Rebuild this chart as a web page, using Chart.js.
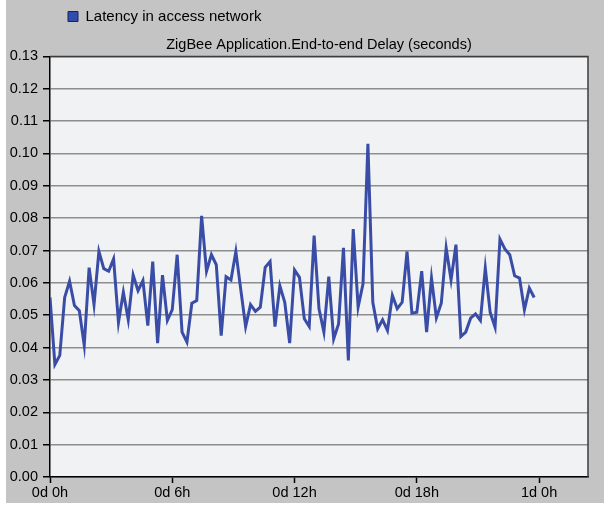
<!DOCTYPE html>
<html>
<head>
<meta charset="utf-8">
<title>ZigBee End-to-end Delay</title>
<script src="https://cdn.jsdelivr.net/npm/chart.js@4.4.1/dist/chart.umd.min.js"></script>
<style>
  html, body { margin: 0; padding: 0; background: #ffffff; }
  #wrap { width: 604px; height: 506px; }
</style>
</head>
<body>
<div id="wrap"><canvas id="delayChart" width="604" height="506"></canvas></div>
<script>
// ===== DATA =====
const seriesName = 'Latency in access network';
const chartTitle = 'ZigBee Application.End-to-end Delay (seconds)';

// one bucket every 0.24 h (100 buckets per simulated day)
const bucketHours = 0.24;
const delays = [
  0.0555, 0.0348, 0.0376, 0.0555, 0.0605, 0.0530, 0.0514, 0.0407, 0.0647, 0.0533,
  0.0697, 0.0644, 0.0636, 0.0674, 0.0478, 0.0571, 0.0486, 0.0624, 0.0576, 0.0607,
  0.0468, 0.0666, 0.0414, 0.0624, 0.0484, 0.0517, 0.0687, 0.0448, 0.0417, 0.0537,
  0.0545, 0.0807, 0.0636, 0.0687, 0.0656, 0.0437, 0.0619, 0.0609, 0.0697, 0.0580,
  0.0465, 0.0533, 0.0512, 0.0525, 0.0648, 0.0666, 0.0465, 0.0591, 0.0540, 0.0414,
  0.0640, 0.0617, 0.0489, 0.0465, 0.0746, 0.0520, 0.0448, 0.0619, 0.0427, 0.0473,
  0.0708, 0.0360, 0.0766, 0.0525, 0.0597, 0.1030, 0.0540, 0.0458, 0.0486, 0.0453,
  0.0561, 0.0520, 0.0540, 0.0697, 0.0506, 0.0509, 0.0636, 0.0448, 0.0615, 0.0492,
  0.0537, 0.0708, 0.0609, 0.0718, 0.0434, 0.0448, 0.0491, 0.0504, 0.0484, 0.0646,
  0.0509, 0.0463, 0.0735, 0.0705, 0.0687, 0.0622, 0.0615, 0.0517, 0.0584, 0.0555
];

const xTickHours = [0, 6, 12, 18, 24];
const xTickLabels = ['0d 0h', '0d 6h', '0d 12h', '0d 18h', '1d 0h'];
const xMaxHours = 26.4;
const yMax = 0.13;
const yStep = 0.01;

const points = delays.map((d, i) => ({ x: i * bucketHours, y: d }));

// ===== PLOT BACKGROUND / FRAME =====
const plotFrame = {
  id: 'plotFrame',
  afterLayout(chart) {
    // nudge legend item to the right, like the original
    chart.legend.left += 9;
  },
  beforeDraw(chart) {
    const { ctx, chartArea: a } = chart;
    ctx.save();
    ctx.fillStyle = '#ffffff';
    ctx.fillRect(0, 0, chart.width, chart.height);
    ctx.fillStyle = '#c4c4c4';
    ctx.fillRect(6, 0, chart.width - 6, chart.height - 3);
    ctx.fillStyle = '#f1f2f3';
    ctx.fillRect(a.left, a.top, a.right - a.left, a.bottom - a.top);
    ctx.restore();
  },
  afterDraw(chart) {
    const { ctx, chartArea: a } = chart;
    ctx.save();
    ctx.strokeStyle = '#3c3c3c';
    ctx.lineWidth = 1.5;
    ctx.beginPath();
    ctx.moveTo(a.left, a.top);
    ctx.lineTo(a.right, a.top);
    ctx.lineTo(a.right, a.bottom);
    ctx.stroke();
    ctx.restore();
  }
};

// ===== CHART =====
const ctx = document.getElementById('delayChart').getContext('2d');

new Chart(ctx, {
  type: 'line',
  data: {
    datasets: [{
      label: seriesName,
      data: points,
      borderColor: '#3a4da6',
      backgroundColor: '#2f4cae',
      borderWidth: 3,
      pointRadius: 0,
      tension: 0,
      fill: false
    }]
  },
  plugins: [plotFrame],
  options: {
    responsive: false,
    animation: false,
    layout: { padding: { top: 0, left: 0, right: 16, bottom: 0 } },
    font: { family: '"Liberation Sans", Arial, sans-serif' },
    plugins: {
      legend: {
        position: 'top',
        align: 'start',
        fullSize: false,
        weight: 3000,
        labels: {
          color: '#000000',
          font: { size: 15 },
          boxWidth: 10,
          boxHeight: 10,
          padding: 9,
          generateLabels(chart) {
            const items = Chart.defaults.plugins.legend.labels.generateLabels(chart);
            items.forEach(it => {
              it.strokeStyle = '#1b2350';
              it.lineWidth = 1;
              it.fillStyle = '#2f4cae';
            });
            return items;
          }
        }
      },
      title: {
        display: true,
        text: chartTitle,
        fullSize: false,
        color: '#000000',
        font: { size: 14.5, weight: 'normal' },
        padding: { top: 2, bottom: 3 }
      },
      tooltip: { enabled: false }
    },
    scales: {
      x: {
        type: 'linear',
        min: 0,
        max: xMaxHours,
        afterBuildTicks(scale) {
          scale.ticks = xTickHours.map(v => ({ value: v }));
        },
        afterFit(scale) {
          scale.height = 29;
        },
        ticks: {
          color: '#000000',
          font: { size: 14.5 },
          padding: 1,
          maxRotation: 0,
          autoSkip: false,
          callback(value) {
            const i = xTickHours.indexOf(value);
            return i >= 0 ? xTickLabels[i] : '';
          }
        },
        grid: {
          drawOnChartArea: false,
          drawTicks: true,
          tickLength: 6,
          tickColor: '#000000',
          tickWidth: 1.5
        },
        border: { color: '#000000', width: 1.5 }
      },
      y: {
        min: 0,
        max: yMax,
        afterFit(scale) {
          scale.width = 50;
        },
        ticks: {
          stepSize: yStep,
          color: '#000000',
          font: { size: 14.5 },
          padding: 5,
          autoSkip: false,
          callback(value) {
            return value.toFixed(2);
          }
        },
        grid: {
          color: '#8e8e8e',
          lineWidth: 1.5,
          tickLength: 7,
          tickColor: '#000000',
          tickWidth: 1.5
        },
        border: { color: '#000000', width: 1.5 }
      }
    }
  }
});
</script>
</body>
</html>
